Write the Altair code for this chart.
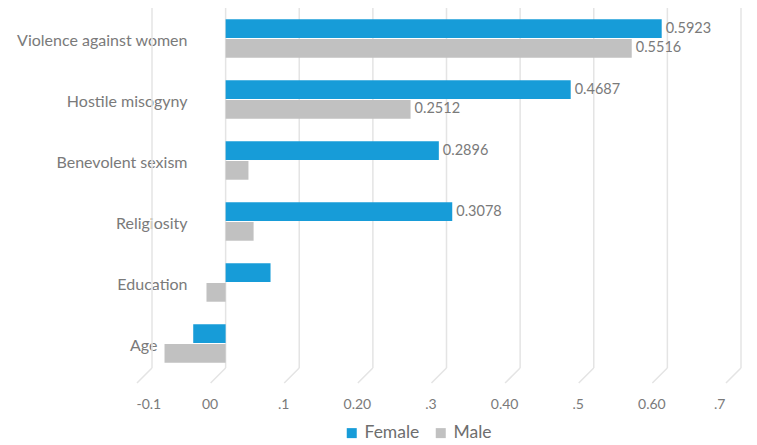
import altair as alt
import pandas as pd

categories = ["Violence against women", "Hostile misogyny", "Benevolent sexism",
              "Religiosity", "Education", "Age"]
series = ["Female", "Male"]
female = [0.5923, 0.4687, 0.2896, 0.3078, 0.061, -0.044]
male = [0.5516, 0.2512, 0.031, 0.038, -0.026, -0.083]
female_labels = ["0.5923", "0.4687", "0.2896", "0.3078", "", ""]
male_labels = ["0.5516", "0.2512", "", "", "", ""]
tick_values = [-0.1, 0.0, 0.1, 0.2, 0.3, 0.4, 0.5, 0.6, 0.7]
tick_labels = ["-0.1", "00", ".1", "0.20", ".3", "0.40", ".5", "0.60", ".7"]
colors = ["#179CD8", "#C1C1C1"]

rows = []
for i, c in enumerate(categories):
    rows.append({"category": c, "series": "Female", "value": female[i], "label": female_labels[i]})
    rows.append({"category": c, "series": "Male", "value": male[i], "label": male_labels[i]})
df = pd.DataFrame(rows)
ticks = pd.DataFrame({"tick": tick_values})

FONT = "Lato"
label_expr = "[" + ",".join("'%s'" % t for t in tick_labels) + "][round(datum.value*10)+1]"

xscale = alt.Scale(domain=[-0.1, 0.7], nice=False, zero=False)
yscale = alt.Scale(domain=categories, paddingInner=0.37, paddingOuter=0.185)

x_axis = alt.Axis(values=tick_values, labelExpr=label_expr, grid=False, domain=False,
                  ticks=False, labelPadding=23, labelOffset=-16, labelFontSize=14,
                  labelFont=FONT, labelColor="#7a7a7a", title=None)
y_axis = alt.Axis(domain=False, ticks=False,
                  labelPadding={"condition": {"test": "datum.value == 'Age'", "value": -5},
                                "value": -35},
                  labelOffset=2, labelFontSize=16,
                  labelFont=FONT, labelColor="#7a7a7a", labelLimit=400, title=None)

grid = alt.Chart(ticks).mark_rule(color="#e4e4e4", strokeWidth=1.5).encode(
    x=alt.X("tick:Q", scale=xscale, axis=x_axis),
    y=alt.value(0),
    y2=alt.value(360),
)
diag = alt.Chart(ticks).transform_calculate(tick2="datum.tick - 0.0204").mark_rule(
    color="#e4e4e4", strokeWidth=1.5).encode(
    x=alt.X("tick:Q", scale=xscale),
    x2="tick2:Q",
    y=alt.value(360),
    y2=alt.value(375),
)

bars = alt.Chart(df).mark_bar().encode(
    x=alt.X("value:Q", scale=xscale, axis=x_axis),
    y=alt.Y("category:N", scale=yscale, sort=categories, axis=y_axis),
    yOffset=alt.YOffset("series:N", sort=series,
                        scale=alt.Scale(paddingInner=0.05, paddingOuter=0)),
    color=alt.Color("series:N", sort=series,
                    scale=alt.Scale(domain=series, range=colors),
                    legend=alt.Legend(orient="none", legendX=191, legendY=416,
                                      direction="horizontal", title=None,
                                      symbolType="square", symbolSize=100,
                                      symbolStrokeWidth=0, labelFontSize=17.5,
                                      labelFont=FONT, labelColor="#6e6e6e",
                                      labelOffset=4, columnPadding=12, padding=0)),
)

texts = alt.Chart(df).transform_filter("datum.label != ''").mark_text(
    align="left", baseline="middle", dx=4, fontSize=14.5, font=FONT, color="#7a7a7a"
).encode(
    x=alt.X("value:Q", scale=xscale),
    y=alt.Y("category:N", scale=yscale, sort=categories),
    yOffset=alt.YOffset("series:N", sort=series,
                        scale=alt.Scale(paddingInner=0.05, paddingOuter=0)),
    text="label:N",
)

chart = alt.layer(grid, diag, bars, texts).properties(
    width=589, height=366,
    autosize=alt.AutoSizeParams(type="none"),
    padding={"left": 144, "top": 0, "right": 8, "bottom": 70},
).configure_view(stroke=None)

chart.save("out.html", embed_options={"renderer": "svg", "actions": False})
